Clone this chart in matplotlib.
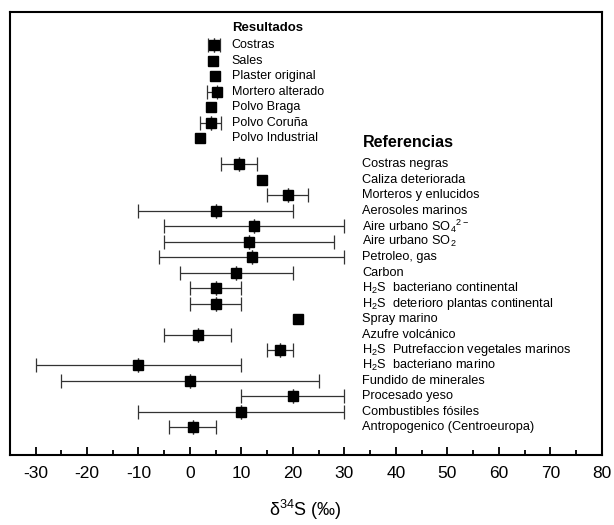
import numpy as np
import matplotlib
matplotlib.use('Agg')
from matplotlib import pyplot as plt
from matplotlib.ticker import MultipleLocator

plt.rcParams['font.family'] = ['Liberation Sans', 'DejaVu Sans']
plt.rcParams['mathtext.default'] = 'regular'
plt.rcParams['axes.unicode_minus'] = False

# resultados
res_names = ['Costras', 'Sales', 'Plaster original', 'Mortero alterado',
             'Polvo Braga', 'Polvo Coruña', 'Polvo Industrial']
res_val = [4.7, 4.4, 4.8, 5.3, 4.0, 4.0, 1.9]
res_lo = [1.2, 0, 0, 1.9, 0, 2.0, 0]
res_hi = [1.2, 0, 0, 0.0, 0, 2.0, 0]

# referencias
ref_names = ['Costras negras', 'Caliza deteriorada', 'Morteros y enlucidos',
             'Aerosoles marinos', 'Aire urbano SO$_4$$^{2-}$', 'Aire urbano SO$_2$',
             'Petroleo, gas', 'Carbon', 'H$_2$S  bacteriano continental',
             'H$_2$S  deterioro plantas continental', 'Spray marino',
             'Azufre volcánico', 'H$_2$S  Putrefaccion vegetales marinos',
             'H$_2$S  bacteriano marino', 'Fundido de minerales',
             'Procesado yeso', 'Combustibles fósiles',
             'Antropogenico (Centroeuropa)']
ref_val = [9.5, 14, 19, 5, 12.5, 11.5, 12, 9, 5, 5, 21, 1.5, 17.5, -10, 0, 20, 10, 0.5]
ref_min = [6, 14, 15, -10, -5, -5, -6, -2, 0, 0, 21, -5, 15, -30, -25, 10, -10, -4]
ref_max = [13, 14, 23, 20, 30, 28, 30, 20, 10, 10, 21, 8, 20, 10, 25, 30, 30, 5]

y_res = np.arange(len(res_names))
y_ref = 7.7 + np.arange(len(ref_names))

fig = plt.figure(figsize=(6.14, 5.25), dpi=100)
ax = fig.add_axes([0.016, 0.133, 0.964, 0.844])

ekw = dict(fmt='none', ecolor='#333333', elinewidth=0.9, capsize=5, capthick=0.9)

# solo barras donde hay error
xs = np.array(res_val + ref_val, dtype=float)
ys = np.concatenate([y_res, y_ref])
lo = np.concatenate([res_lo, np.array(ref_val) - np.array(ref_min)])
hi = np.concatenate([res_hi, np.array(ref_max) - np.array(ref_val)])
m = (lo > 0) | (hi > 0)
for x, y, l, h in zip(xs[m], ys[m], lo[m], hi[m]):
    if l > 0:
        ax.errorbar([x], [y], xerr=[[l], [0]], **ekw)
    if h > 0:
        ax.errorbar([x], [y], xerr=[[0], [h]], **ekw)
ax.plot(xs, ys, 's', color='black', ms=7, zorder=3)

ax.text(8.1, -1.1, 'Resultados', fontsize=9.5, fontweight='bold', va='center')
for y, n in zip(y_res, res_names):
    ax.text(8.1, y, n, fontsize=9, va='center')
ax.text(33.5, 6.3, 'Referencias', fontsize=11.5, fontweight='bold', va='center')
for y, n in zip(y_ref, ref_names):
    ax.text(33.5, y, n, fontsize=9.2, va='center')

ax.set_xlim(-35, 80)
ax.set_ylim(26.5, -2.15)
ax.xaxis.set_major_locator(MultipleLocator(10))
ax.xaxis.set_minor_locator(MultipleLocator(5))
ax.tick_params(axis='x', which='both', direction='in', labelsize=12.5, width=1.3)
ax.tick_params(axis='x', which='major', length=6, pad=8)
ax.tick_params(axis='x', which='minor', length=3.5)
ax.set_yticks([])
for s in ax.spines.values():
    s.set_linewidth(1.5)
ax.set_xlabel('\u03b4$^{34}$S (‰)', fontsize=13, labelpad=12)

fig.savefig('out.png', dpi=100)
